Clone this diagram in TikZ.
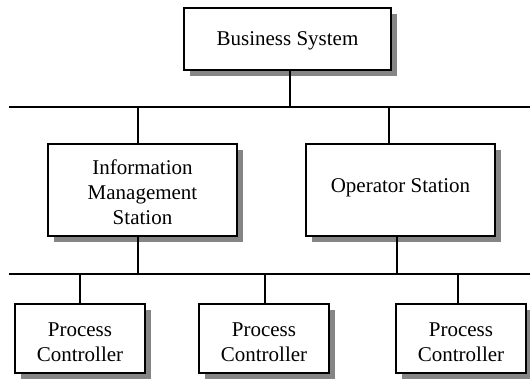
\documentclass[tikz,border=0pt]{standalone}
\usepackage{fontspec}
\setmainfont{Liberation Serif}
\usetikzlibrary{shadows}
\definecolor{shade}{HTML}{858585}
\begin{document}
\begin{tikzpicture}[x=1pt,y=-1pt,
  box/.style={draw=black, line width=1.6pt, fill=white, align=center,
    font=\fontsize{21}{25}\selectfont, inner sep=0pt,
    general shadow={shadow xshift=6pt, shadow yshift=-6pt, fill=shade}},
  wire/.style={draw=black, line width=1.3pt}]
\useasboundingbox (0,0) rectangle (530,379);
% buses
\coordinate (b1l) at (9,107);
\coordinate (b1r) at (530,107);
\coordinate (b2l) at (9,274);
\coordinate (b2r) at (530,274);
\draw[wire] (b1l) -- (b1r);
\draw[wire] (b2l) -- (b2r);
% taps
\coordinate (t0) at (290,107);
\coordinate (t1) at (138,107);
\coordinate (t2) at (389,107);
\coordinate (u1) at (138,274);
\coordinate (u2) at (397,274);
\coordinate (p1) at (80,274);
\coordinate (p2) at (265,274);
\coordinate (p3) at (458,274);
% boxes
\node[box, minimum width=207pt, minimum height=62pt, text height=18pt, text depth=4.6pt] (bs) at (287.5,39) {Business System};
\node[box, minimum width=189pt, minimum height=92pt, text height=70pt, text depth=0pt] (ims) at (142.5,190) {Information\\Management\\Station};
\node[box, minimum width=189pt, minimum height=92pt, text height=14pt, text depth=8.6pt] (os) at (400.5,190) {Operator Station};
\node[box, minimum width=130pt, minimum height=69pt, text height=46pt, text depth=0pt] (pc1) at (80,338.5) {Process\\Controller};
\node[box, minimum width=130pt, minimum height=69pt, text height=46pt, text depth=0pt] (pc2) at (264,338.5) {Process\\Controller};
\node[box, minimum width=130pt, minimum height=69pt, text height=46pt, text depth=0pt] (pc3) at (461,338.5) {Process\\Controller};
% connectors
\draw[wire] (t0) -- (t0 |- bs.south);
\draw[wire] (t1) -- (t1 |- ims.north);
\draw[wire] (u1) -- (u1 |- ims.south);
\draw[wire] (t2) -- (t2 |- os.north);
\draw[wire] (u2) -- (u2 |- os.south);
\draw[wire] (p1) -- (p1 |- pc1.north);
\draw[wire] (p2) -- (p2 |- pc2.north);
\draw[wire] (p3) -- (p3 |- pc3.north);
\end{tikzpicture}
\end{document}
